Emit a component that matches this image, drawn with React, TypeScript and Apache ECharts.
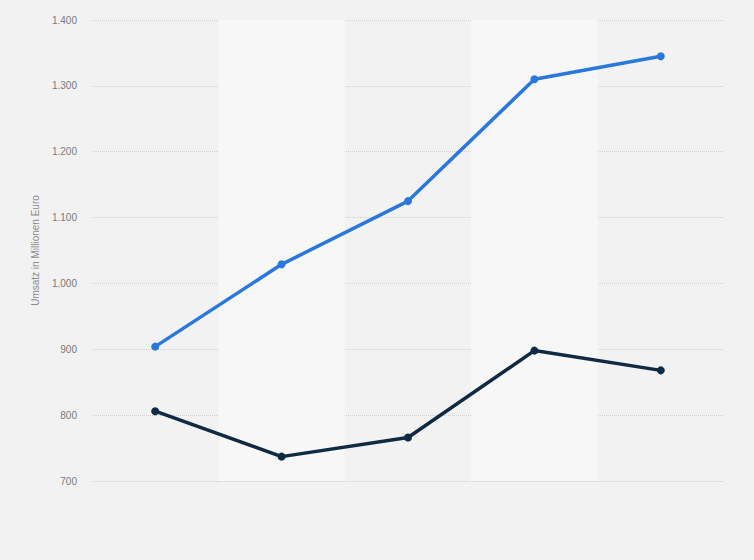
import React, { useEffect, useRef } from "react";
import * as echarts from "echarts";

const categories = ["2018", "2019", "2020", "2021", "2022"];
const seriesA = [904, 1029, 1125, 1310, 1345];
const seriesB = [806, 737, 766, 898, 868];
const yName = "Umsatz in Millionen Euro";
const yMin = 700;
const yMax = 1400;
const yStep = 100;

function fmt(v: number): string {
  return String(v).replace(/\B(?=(\d{3})+(?!\d))/g, ".");
}

export default function App() {
  const ref = useRef<HTMLDivElement>(null);
  useEffect(() => {
    if (!ref.current) return;
    const chart = echarts.init(ref.current, undefined, { renderer: "svg" });
    chart.setOption({
      animation: false,
      backgroundColor: "#f2f2f2",
      grid: { left: 92, right: 30, top: 20, bottom: 79, containLabel: false },
      xAxis: {
        type: "category",
        data: categories,
        boundaryGap: true,
        axisLine: { show: false },
        axisTick: { show: false },
        axisLabel: { show: false },
        splitLine: { show: false },
        splitArea: {
          show: true,
          areaStyle: { color: ["rgba(0,0,0,0)", "#f7f7f7"] },
        },
      },
      yAxis: {
        type: "value",
        min: yMin,
        max: yMax,
        interval: yStep,
        name: yName,
        nameLocation: "middle",
        nameGap: 52,
        nameRotate: 90,
        nameTextStyle: { color: "#8a8a8a", fontSize: 10, fontFamily: "Arial, Liberation Sans, sans-serif" },
        axisLine: { show: false },
        axisTick: { show: false },
        axisLabel: {
          color: "#7a7a7a",
          fontSize: 10,
          margin: 15,
          fontFamily: "Arial, Liberation Sans, sans-serif",
          formatter: (v: number) => fmt(v),
        },
        splitLine: { lineStyle: { color: "#cfcfcf", type: [1, 1], width: 1 } },
      },
      series: [
        {
          type: "line",
          data: seriesA,
          symbol: "circle",
          symbolSize: 8,
          lineStyle: { color: "#2a78de", width: 3.5 },
          itemStyle: { color: "#2a78de" },
        },
        {
          type: "line",
          data: seriesB,
          symbol: "circle",
          symbolSize: 8,
          lineStyle: { color: "#0f2a44", width: 3.5 },
          itemStyle: { color: "#0f2a44" },
        },
      ],
    });
    return () => chart.dispose();
  }, []);
  return <div ref={ref} style={{ width: 754, height: 560, position: "absolute", left: 0, top: 0 }} />;
}
